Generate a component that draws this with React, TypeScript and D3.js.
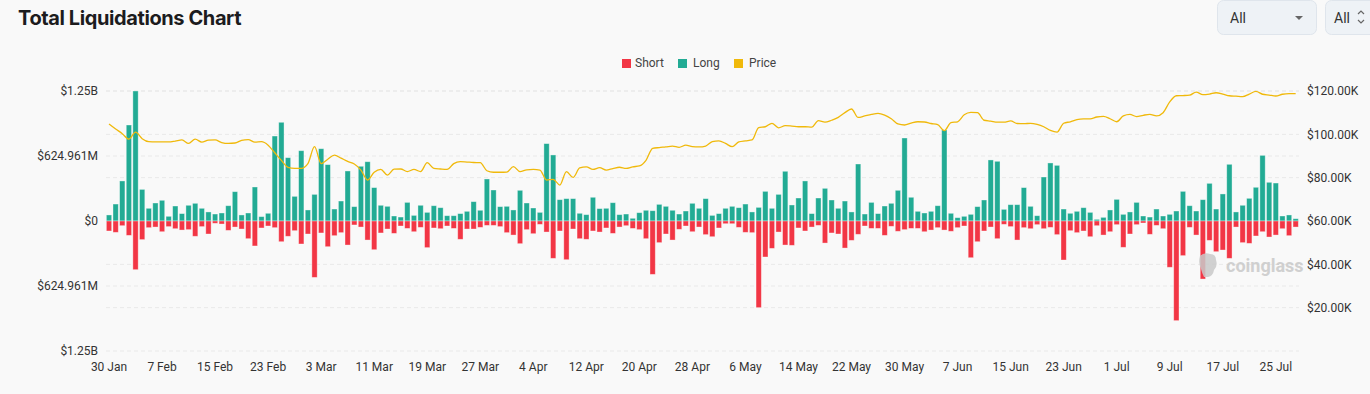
import React from "react";
import * as d3 from "d3";

// daily liquidations in $M, 30 Jan .. 28 Jul
const longLiq = [
  58, 163, 385, 923, 1250, 304, 122, 173, 199, 45, 144, 71, 151, 170, 122, 87, 67, 77, 147, 282,
  58, 77, 327, 42, 74, 817, 949, 609, 237, 676, 106, 256, 695, 542, 115, 192, 481, 138, 526, 570,
  321, 151, 141, 48, 38, 179, 54, 151, 83, 147, 128, 51, 51, 71, 93, 186, 103, 404, 298, 138,
  141, 106, 295, 173, 125, 83, 744, 635, 205, 215, 215, 74, 61, 228, 119, 122, 176, 61, 67, 26,
  80, 103, 99, 160, 141, 103, 67, 96, 170, 122, 215, 54, 71, 122, 141, 128, 163, 87, 131, 285,
  122, 256, 478, 154, 221, 385, 71, 221, 314, 202, 122, 192, 87, 548, 67, 179, 71, 144, 170, 295,
  798, 228, 93, 77, 93, 147, 875, 74, 32, 45, 64, 138, 202, 587, 574, 112, 157, 157, 321, 141,
  51, 423, 558, 535, 115, 74, 93, 128, 83, 16, 35, 106, 208, 64, 87, 179, 48, 38, 115, 48,
  64, 96, 285, 147, 96, 205, 362, 115, 260, 545, 87, 151, 218, 324, 631, 372, 365, 48, 58, 22,
];
const shortLiq = [
  96, 109, 45, 138, 468, 179, 64, 58, 103, 54, 74, 87, 83, 147, 54, 125, 22, 29, 90, 58,
  77, 170, 240, 67, 48, 64, 199, 147, 93, 221, 125, 542, 115, 247, 141, 112, 231, 38, 58, 183,
  276, 115, 77, 119, 48, 71, 103, 61, 256, 67, 74, 48, 71, 176, 77, 77, 61, 42, 42, 54,
  112, 135, 218, 83, 122, 32, 106, 359, 96, 372, 77, 170, 176, 96, 106, 67, 119, 58, 45, 71,
  83, 170, 513, 208, 125, 183, 80, 48, 103, 58, 131, 151, 67, 26, 26, 61, 109, 112, 833, 346,
  263, 106, 231, 234, 67, 96, 58, 42, 212, 115, 125, 260, 186, 128, 48, 71, 71, 138, 51, 99,
  83, 71, 71, 103, 87, 64, 87, 99, 64, 48, 353, 199, 96, 58, 170, 32, 54, 183, 64, 74,
  35, 74, 61, 131, 375, 93, 112, 96, 151, 45, 135, 103, 35, 253, 125, 35, 19, 128, 42, 74,
  445, 958, 333, 61, 135, 558, 186, 295, 279, 359, 58, 208, 215, 144, 103, 154, 135, 74, 141, 58,
];
// BTC price in $K
const price = [
  104.8, 102.5, 100.3, 97.8, 101.0, 98.0, 96.6, 96.5, 96.5, 96.5, 96.9, 97.4, 95.8, 97.8, 96.4, 97.3, 97.4, 96.2, 95.8, 96.0,
  97.2, 97.6, 96.4, 96.6, 95.0, 91.5, 88.0, 84.8, 84.3, 84.3, 86.5, 94.3, 86.5, 88.5, 90.4, 89.0, 87.5, 86.3, 83.5, 78.9,
  82.5, 83.8, 81.2, 83.9, 84.0, 82.8, 83.8, 82.8, 86.9, 84.3, 84.0, 83.8, 86.5, 87.4, 87.2, 87.0, 86.9, 83.2, 82.5, 82.5,
  82.6, 85.1, 82.8, 83.6, 83.8, 83.5, 78.9, 79.2, 76.6, 82.8, 80.1, 84.5, 85.0, 83.8, 84.6, 83.5, 84.2, 84.8, 84.3, 85.0,
  85.4, 88.0, 93.5, 93.9, 94.2, 94.6, 94.0, 95.0, 94.3, 94.2, 94.6, 96.6, 97.0, 95.8, 94.3, 96.5, 97.0, 97.4, 103.1, 103.5,
  105.1, 103.0, 104.0, 103.8, 103.5, 103.5, 103.3, 106.3, 105.6, 106.5, 107.8, 110.0, 111.7, 107.8, 108.5, 109.2, 109.7, 108.9, 107.2, 104.8,
  104.3, 105.2, 105.8, 105.7, 105.0, 104.5, 101.7, 105.4, 105.8, 109.0, 110.1, 110.0, 106.5, 106.1, 105.6, 105.6, 106.2, 105.0, 104.9, 105.1,
  104.6, 103.5, 101.8, 101.0, 105.1, 105.8, 106.8, 107.1, 107.1, 108.0, 108.3, 107.2, 105.8, 108.5, 109.2, 108.2, 108.8, 109.2, 108.5, 110.0,
  115.0, 117.8, 117.9, 118.1, 119.5, 118.3, 118.6, 119.2, 118.6, 117.8, 117.6, 117.4, 118.6, 119.8, 118.5, 118.1, 117.7, 118.5, 118.8, 118.8,
];
const dates = d3.timeDay.range(new Date(2025, 0, 30), new Date(2025, 6, 29));
const liqMax = 1249.922; // $M
const priceTicks = [20, 40, 60, 80, 100, 120];

const GREEN = "#22ab94";
const RED = "#f23645";
const GOLD = "#f0b90b";

const fmtLiq = (v: number) => {
  const a = Math.abs(v);
  if (a === 0) return "$0";
  if (a >= 1000) return `$${(a / 1000).toFixed(2)}B`;
  return `$${a.toFixed(3)}M`;
};

export default function App() {
  const idx = d3.range(dates.length);
  const x = d3.scaleBand<number>().domain(idx).range([105.7, 1299]).paddingInner(0.2).paddingOuter(0.1);
  const yL = d3.scaleLinear().domain([-liqMax, liqMax]).range([351, 91]);
  const yR = d3.scaleLinear().domain([0, 120]).range([351, 91]);
  const cx = (i: number) => (x(i) as number) + x.bandwidth() / 2;
  const line = d3.line<number>().x((_, i) => cx(i)).y((d) => yR(d)).curve(d3.curveMonotoneX);
  const leftTicks = [liqMax, liqMax / 2, 0, -liqMax / 2, -liqMax];
  const fmtDate = d3.timeFormat("%-d %b");
  const font = "Roboto, 'Noto Sans', sans-serif";

  return (
    <>
      <style>{`body{margin:0;background:#f9f9f9}`}</style>
      <svg width={1370} height={394} style={{ display: "block", fontFamily: font }}>
        <rect width={1370} height={394} fill="#f9f9f9" />
        <text x={18} y={25} fontSize={20} fontWeight={700} fill="#1c1c1e" fontFamily="Inter, Roboto, sans-serif" letterSpacing={-0.4}>
          Total Liquidations Chart
        </text>

        {/* selects */}
        <rect x={1217.5} y={0.5} width={99} height={34} rx={6} fill="#eef2f6" stroke="#dfe5ec" />
        <text x={1230} y={23} fontSize={14} fill="#333">All</text>
        <path d="M1295,16 l8,0 l-4,4 z" fill="#666" />
        <rect x={1325.5} y={0.5} width={60} height={34} rx={6} fill="#eef2f6" stroke="#dfe5ec" />
        <text x={1334} y={23} fontSize={14} fill="#333">All</text>
        <path d="M1358,14 l3,-3 l3,3 M1358,20 l3,3 l3,-3" fill="none" stroke="#666" strokeWidth={1.2} />

        {/* legend */}
        <rect x={622} y={59} width={9} height={9} fill={RED} />
        <text x={635} y={67} fontSize={12} fill="#444">Short</text>
        <rect x={678} y={59} width={9} height={9} fill={GREEN} />
        <text x={693} y={67} fontSize={12} fill="#444">Long</text>
        <rect x={734} y={59} width={9} height={9} fill={GOLD} />
        <text x={749} y={67} fontSize={12} fill="#444">Price</text>

        {/* grid */}
        {leftTicks.map((t, k) => (
          <line key={"gl" + k} x1={106} x2={1299} y1={yL(t)} y2={yL(t)} stroke="#e9e9e9" strokeDasharray="4 3" />
        ))}
        {priceTicks.map((t) => (
          <line key={"gr" + t} x1={106} x2={1299} y1={yR(t)} y2={yR(t)} stroke="#e9e9e9" strokeDasharray="4 3" />
        ))}

        {/* bars */}
        {longLiq.map((v, i) => (
          <rect key={"l" + i} x={x(i)} y={yL(v)} width={x.bandwidth()} height={yL(0) - yL(v)}
            fill={GREEN} stroke="rgba(255,255,255,0.45)" strokeWidth={0.8} />
        ))}
        {shortLiq.map((v, i) => (
          <rect key={"s" + i} x={x(i)} y={yL(0)} width={x.bandwidth()} height={yL(-v) - yL(0)}
            fill={RED} stroke="rgba(255,255,255,0.45)" strokeWidth={0.8} />
        ))}

        {/* price */}
        <path d={line(price) || ""} fill="none" stroke={GOLD} strokeWidth={1.3} />

        {/* watermark */}
        <g opacity={0.85}>
          <path d="M1200,256 q4,-4 10,-2 q6,0 6,6 q2,6 -2,10 q-1,6 -6,7 l-4,0 q-2,-4 -3,-8 q-3,-6 -1,-13 z" fill="#c9c9c9" />
          <text x={1226} y={272} fontSize={18} fontWeight={700} fill="#c9c9c9">coinglass</text>
        </g>

        {/* axes labels */}
        {leftTicks.map((t, k) => (
          <text key={"lt" + k} x={98} y={yL(t)} dy="0.35em" textAnchor="end" fontSize={12} fill="#333">
            {fmtLiq(t)}
          </text>
        ))}
        {priceTicks.map((t) => (
          <text key={"rt" + t} x={1307} y={yR(t)} dy="0.35em" fontSize={12} fill="#333">
            {`$${t.toFixed(2)}K`}
          </text>
        ))}
        {dates.map((d, i) =>
          i % 8 === 0 ? (
            <text key={"x" + i} x={cx(i)} y={371} textAnchor="middle" fontSize={12} fill="#333">
              {fmtDate(d)}
            </text>
          ) : null
        )}
      </svg>
    </>
  );
}
